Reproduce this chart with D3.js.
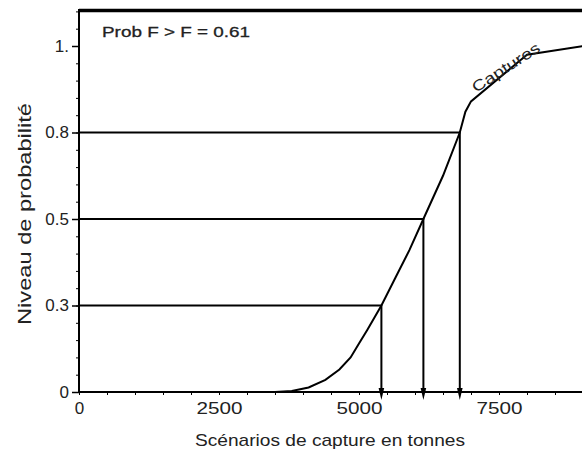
<!DOCTYPE html>
<meta charset="utf-8">
<style>
body { margin: 0; background: #fff; }
text { font-family: "Liberation Sans", Arial, sans-serif; fill: #222; }
.curve { fill: none; stroke: #000; stroke-width: 2px; }
.ref { fill: none; stroke: #000; stroke-width: 2px; }
.axis line, .axis path { stroke: #000; }
</style>
<body>
<script src="https://d3js.org/d3.v7.min.js"></script>
<script>

// catch scenarios (tonnes) and cumulative probability
var catches = [3500, 3800, 4100, 4400, 4650, 4850, 5000, 5150, 5400, 5650, 5900, 6150, 6500, 6800, 6900, 7000, 8000, 9000];
var probs   = [0, 0.003, 0.013, 0.035, 0.065, 0.10, 0.14, 0.18, 0.25, 0.33, 0.41, 0.5, 0.625, 0.75, 0.81, 0.84, 0.975, 1.0];

// reference levels
var refCatch = [5400, 6150, 6800];
var refProb  = [0.25, 0.5, 0.75];

// tick values and labels
var xTicks = [0, 2500, 5000, 7500];
var xLabels = ["0", "2500", "5000", "7500"];
var yTicks = [0, 0.25, 0.5, 0.75, 1];
var yLabels = ["0", "0.3", "0.5", "0.8", "1."];

var width = 582, height = 455;

var x = d3.scaleLinear().domain([0, 9000]).range([79, 583]);
var y = d3.scaleLinear().domain([0, 1.1]).range([392, 11.4]);

var svg = d3.select("body").append("svg")
    .attr("width", width)
    .attr("height", height);

// top frame line
svg.append("line")
    .attr("x1", x(0)).attr("x2", width)
    .attr("y1", 10.5).attr("y2", 10.5)
    .attr("stroke", "#000").attr("stroke-width", 3.5);

// minor ticks
var yMinor = d3.range(0, 1.101, 0.05);
svg.append("g").attr("class", "axis")
    .attr("transform", "translate(" + x(0) + ",0)")
    .call(d3.axisLeft(y).tickValues(yMinor).tickSize(3).tickFormat(""))
    .call(g => g.select(".domain").remove());

var xMinor = d3.range(0, 9001, 500);
svg.append("g").attr("class", "axis")
    .attr("transform", "translate(0," + y(0) + ")")
    .call(d3.axisBottom(x).tickValues(xMinor).tickSize(3).tickFormat(""))
    .call(g => g.select(".domain").remove());

// major y ticks
svg.append("g").attr("class", "axis")
    .attr("transform", "translate(" + x(0) + ",0)")
    .call(d3.axisLeft(y).tickValues(yTicks).tickSize(7).tickPadding(3)
      .tickFormat((d, i) => yLabels[i]))
    .call(g => g.select(".domain").remove())
    .call(g => g.selectAll("line").attr("stroke-width", 1.5))
    .call(g => g.selectAll("text").attr("font-size", 17).attr("fill", "#222")
      .style("font-family", "'Liberation Sans', Arial, sans-serif"));

// major x ticks (labels only, ticks are the minor ones)
svg.append("g").attr("class", "axis")
    .attr("transform", "translate(0," + y(0) + ")")
    .call(d3.axisBottom(x).tickValues(xTicks).tickSize(3).tickPadding(7)
      .tickFormat((d, i) => xLabels[i]))
    .call(g => g.select(".domain").remove())
    .call(g => g.selectAll("text").attr("font-size", 17).attr("fill", "#222")
      .attr("textLength", (d, i) => i === 0 ? null : 46)
      .attr("lengthAdjust", "spacingAndGlyphs")
      .style("font-family", "'Liberation Sans', Arial, sans-serif"));

// axis lines
svg.append("line")
    .attr("x1", x(0)).attr("x2", x(0))
    .attr("y1", 9).attr("y2", y(0) + 1)
    .attr("stroke", "#000").attr("stroke-width", 2);
svg.append("line")
    .attr("x1", x(0) - 1).attr("x2", width)
    .attr("y1", y(0)).attr("y2", y(0))
    .attr("stroke", "#000").attr("stroke-width", 2);

// reference lines
refCatch.forEach(function(c, i) {
  var p = refProb[i];
  svg.append("path")
      .attr("class", "ref")
      .attr("d", "M" + x(0) + "," + y(p) + "H" + x(c) + "V" + y(0));
  svg.append("path")
      .attr("fill", "#000")
      .attr("d", "M" + (x(c) - 2.8) + "," + (y(0) - 4) +
                 "L" + (x(c) + 2.8) + "," + (y(0) - 4) +
                 "L" + x(c) + "," + (y(0) + 8) + "Z");
});

// cumulative curve
var line = d3.line()
    .x(function(d) { return x(d[0]); })
    .y(function(d) { return y(d[1]); });

svg.append("path")
    .datum(catches.map((c, i) => [c, probs[i]]))
    .attr("class", "curve")
    .attr("d", line);

// curve label
svg.append("text")
    .attr("transform", "translate(476,93) rotate(-33)")
    .attr("font-size", 15)
    .attr("textLength", 78)
    .attr("lengthAdjust", "spacingAndGlyphs")
    .text("Captures");

// probability note
svg.append("text")
    .attr("x", 102).attr("y", 37)
    .attr("font-size", 15)
    .attr("textLength", 148)
    .attr("lengthAdjust", "spacingAndGlyphs")
    .style("stroke", "#222").style("stroke-width", 0.3)
    .text("Prob F > F = 0.61");

// axis titles
svg.append("text")
    .attr("x", 330).attr("y", 446)
    .attr("text-anchor", "middle")
    .attr("font-size", 17)
    .attr("textLength", 270)
    .attr("lengthAdjust", "spacingAndGlyphs")
    .text("Scénarios de capture en tonnes");

svg.append("text")
    .attr("transform", "translate(31,214) rotate(-90)")
    .attr("text-anchor", "middle")
    .attr("font-size", 19)
    .attr("textLength", 222)
    .attr("lengthAdjust", "spacingAndGlyphs")
    .text("Niveau de probabilité");

</script>
</body>
